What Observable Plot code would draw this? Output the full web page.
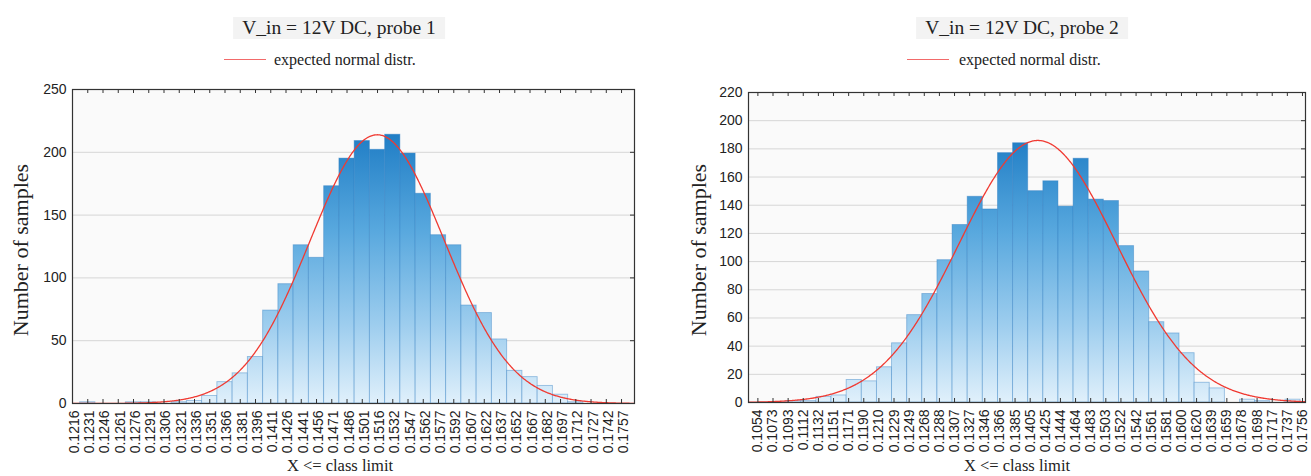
<!DOCTYPE html>
<html><head><meta charset="utf-8">
<script src="https://cdn.jsdelivr.net/npm/d3@7"></script>
<script src="https://cdn.jsdelivr.net/npm/@observablehq/plot@0.6"></script>
<style>
body{margin:0;background:#fff;}
#root{position:relative;width:1311px;height:476px;overflow:hidden;font-family:"Liberation Serif","Times New Roman",serif;color:#222;background:#fff}
.abs{position:absolute;white-space:nowrap}
.title{font-size:19.5px;line-height:22px;background:#f3f3f3;padding:0 9px;transform:translate(-50%,-50%)}
.leg{font-size:16px;transform:translateY(-50%)}
.legline{height:0;border-top:1.6px solid #f26a6a}
.xt{font-size:16.5px;transform:translate(-50%,-50%)}
.yt{font-size:22px;transform:translate(-50%,-50%) rotate(-90deg)}
.chart{position:absolute;top:80px}
</style></head><body><div id="root"></div>
<script>
// ---------- data: probe 1 ----------
const labels1 = ["0.1216","0.1231","0.1246","0.1261","0.1276","0.1291","0.1306","0.1321","0.1336","0.1351","0.1366","0.1381","0.1396","0.1411","0.1426","0.1441","0.1456","0.1471","0.1486","0.1501","0.1516","0.1532","0.1547","0.1562","0.1577","0.1592","0.1607","0.1622","0.1637","0.1652","0.1667","0.1682","0.1697","0.1712","0.1727","0.1742","0.1757"];
const counts1 = [0,1,0,0,1,1,0,1,2,6,17,24,37,74,95,126,116,173,195,209,202,214,199,167,134,126,78,72,51,26,21,14,7,1,0,0,0];
const yTicks1 = [0,50,100,150,200,250];
const mean1 = 0.15163, sd1 = 0.00661, n1 = 2359;

// ---------- data: probe 2 ----------
const labels2 = ["0.1054","0.1073","0.1093","0.1112","0.1132","0.1151","0.1171","0.1190","0.1210","0.1229","0.1249","0.1268","0.1288","0.1307","0.1327","0.1346","0.1366","0.1385","0.1405","0.1425","0.1444","0.1464","0.1483","0.1503","0.1522","0.1542","0.1561","0.1581","0.1600","0.1620","0.1639","0.1659","0.1678","0.1698","0.1717","0.1737","0.1756"];
const counts2 = [0,0,1,1,4,5,16,15,25,42,62,77,101,126,146,137,177,184,150,157,139,173,144,143,111,93,57,49,35,14,10,0,2,1,0,2,0];
const yTicks2 = [0,20,40,60,80,100,120,140,160,180,200,220];
const mean2 = 0.14148, sd2 = 0.01014, n2 = 2424;

const titles = ["V_in = 12V DC, probe 1", "V_in = 12V DC, probe 2"];
const legendText = "expected normal distr.";
const xTitle = "X <= class limit";
const yTitle = "Number of samples";

function makeChart(o) {
  const {labels, counts, yTicks, mean, sd, n, xDomain, barOffset, width, height, ml, mr, mt, mb, gradId, labelDx} = o;
  const first = +labels[0];
  const step = (+labels[labels.length - 1] - first) / (labels.length - 1);
  const idx = d3.range(labels.length);
  const bars = counts.map((c, i) => ({i, c}));
  const curve = d3.range(xDomain[0], xDomain[1] + 1e-9, 0.05).map(i => {
    const v = first + i * step;
    return {i, y: n * step * Math.exp(-((v - mean) ** 2) / (2 * sd * sd)) / (sd * Math.sqrt(2 * Math.PI))};
  });
  const yMax = yTicks[yTicks.length - 1];
  const innerW = width - ml - mr, innerH = height - mt - mb;
  const svg = Plot.plot({
    width, height, marginLeft: ml, marginRight: mr, marginTop: mt, marginBottom: mb,
    style: {fontFamily: "'Liberation Sans', Arial, sans-serif", fontSize: "14px", color: "#333", background: "transparent", overflow: "visible"},
    x: {type: "linear", domain: xDomain, axis: null},
    y: {domain: [0, yMax], axis: null},
    marks: [
      Plot.frame({fill: "#fafafa", stroke: null}),
      Plot.gridY(yTicks, {stroke: "#d6d6d6", strokeOpacity: 1}),
      Plot.rectY(bars, {x1: d => d.i + barOffset - 0.5, x2: d => d.i + barOffset + 0.5, y: "c",
        fill: `url(#${gradId})`, stroke: "#2f7cc2", strokeOpacity: 0.45, strokeWidth: 0.9, clip: true}),
      Plot.line(curve, {x: "i", y: "y", stroke: "#f03a32", strokeWidth: 1.3, clip: true}),
      Plot.tickX(idx, {x: d => d, insetBottom: innerH - 4, stroke: "#333"}),
      Plot.tickX(idx, {x: d => d, insetTop: innerH - 4, stroke: "#333"}),
      Plot.tickY(yTicks, {y: d => d, insetLeft: innerW - 4, stroke: "#333"}),
      Plot.frame({stroke: "#333", strokeWidth: 1.2}),
      Plot.axisX(idx, {tickSize: 0, tickPadding: 7, tickRotate: -90, tickFormat: i => labels[i], label: null, dx: labelDx, fill: "#222"}),
      Plot.axisY(yTicks, {tickSize: 0, tickPadding: 6, label: null, fill: "#222"})
    ]
  });
  const y = svg.scale("y");
  const grad = d3.select(svg).insert("defs", ":first-child").append("linearGradient")
    .attr("id", gradId).attr("gradientUnits", "userSpaceOnUse")
    .attr("x1", 0).attr("x2", 0).attr("y1", y.apply(yMax)).attr("y2", y.apply(0));
  [[0, "#1469b6"], [0.14, "#1f7dc5"], [0.45, "#58a8de"], [0.75, "#9dcdee"], [1, "#e0f0fb"]]
    .forEach(([off, c]) => grad.append("stop").attr("offset", off).attr("stop-color", c));
  return svg;
}

const root = document.getElementById("root");
function addDiv(cls, text, css) {
  const d = document.createElement("div");
  d.className = "abs " + cls;
  d.textContent = text;
  Object.assign(d.style, css);
  root.appendChild(d);
  return d;
}

const c1 = makeChart({labels: labels1, counts: counts1, yTicks: yTicks1, mean: mean1, sd: sd1, n: n1,
  xDomain: [0, 36.85], barOffset: 0, width: 655, height: 396, ml: 72, mr: 21, mt: 9, mb: 73, gradId: "g1", labelDx: 2});
c1.classList.add("chart"); c1.style.left = "0px";
root.appendChild(c1);

const c2 = makeChart({labels: labels2, counts: counts2, yTicks: yTicks2, mean: mean2, sd: sd2, n: n2,
  xDomain: [-0.62, 36.2], barOffset: 0.37, width: 631, height: 396, ml: 68, mr: 6, mt: 12, mb: 74, gradId: "g2", labelDx: 0});
c2.classList.add("chart"); c2.style.left = "680px";
root.appendChild(c2);

// titles
addDiv("title", titles[0], {left: "339px", top: "28px"});
addDiv("title", titles[1], {left: "1022px", top: "28px"});
// legends
addDiv("legline", "", {left: "224px", top: "59px", width: "42px"});
addDiv("leg", legendText, {left: "274px", top: "60px"});
addDiv("legline", "", {left: "907px", top: "59px", width: "42px"});
addDiv("leg", legendText, {left: "959px", top: "60px"});
// axis titles
addDiv("xt", xTitle, {left: "340px", top: "466px"});
addDiv("xt", xTitle, {left: "1017px", top: "466px"});
addDiv("yt", yTitle, {left: "21px", top: "250px"});
addDiv("yt", yTitle, {left: "699px", top: "250px"});
</script>
</body></html>
